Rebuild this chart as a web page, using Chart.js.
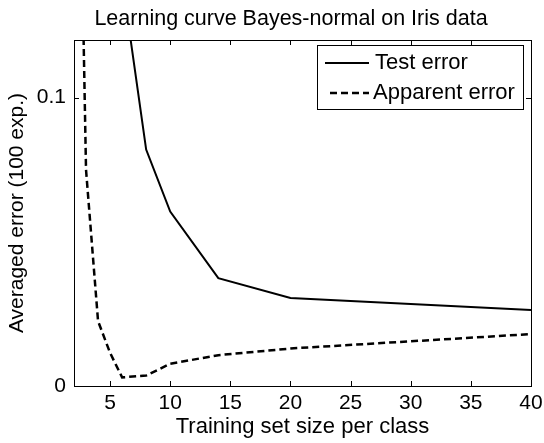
<!DOCTYPE html>
<html>
<head>
<meta charset="utf-8">
<script src="https://cdn.jsdelivr.net/npm/chart.js@4/dist/chart.umd.min.js"></script>
<style>
  html, body { margin: 0; padding: 0; background: #fff; }
  #wrap { width: 544px; height: 443px; }
</style>
</head>
<body>
<div id="wrap"><canvas id="c" width="544" height="443"></canvas></div>
<script>
// Training set sizes per class
const sizes = [2, 3, 4, 5, 6, 8, 10, 14, 20, 40];
// Averaged test error (values above the plot range are clipped)
const testError = [null, null, null, null, 0.141, 0.082, 0.0605, 0.0374, 0.0305, 0.0264];
// Averaged apparent (training) error
const apparentError = [0.30, 0.075, 0.0225, 0.0115, 0.003, 0.0036, 0.0077, 0.0107, 0.013, 0.018];

const seriesLabels = ['Test error', 'Apparent error'];
const xTicks = [5, 10, 15, 20, 25, 30, 35, 40];
const yTicks = [0, 0.1];
const chartTitle = 'Learning curve Bayes-normal on Iris data';

const FONT = '"Liberation Sans", Arial, Helvetica, sans-serif';

const toPoints = (ys) => sizes.map((x, i) => ({ x: x, y: ys[i] }));

// Plot title above the axes
const plotTitle = {
  id: 'plotTitle',
  afterDraw(chart) {
    const { ctx } = chart;
    ctx.save();
    ctx.font = '21.5px ' + FONT;
    ctx.fillStyle = '#000';
    ctx.textAlign = 'center';
    ctx.textBaseline = 'alphabetic';
    ctx.fillText(chartTitle, 291, 25);
    ctx.restore();
  }
};

// MATLAB-like axes box with inward tick marks on all four sides
const boxAxes = {
  id: 'boxAxes',
  afterDatasetsDraw(chart) {
    const { ctx, chartArea: a, scales } = chart;
    const len = 5;
    ctx.save();
    ctx.strokeStyle = '#000';
    ctx.lineWidth = 1;
    ctx.beginPath();
    scales.x.ticks.forEach(t => {
      const px = Math.round(scales.x.getPixelForValue(t.value)) + 0.5;
      ctx.moveTo(px, a.bottom); ctx.lineTo(px, a.bottom - len);
      ctx.moveTo(px, a.top); ctx.lineTo(px, a.top + len);
    });
    scales.y.ticks.forEach(t => {
      const py = Math.round(scales.y.getPixelForValue(t.value)) + 0.5;
      ctx.moveTo(a.left, py); ctx.lineTo(a.left + len, py);
      ctx.moveTo(a.right, py); ctx.lineTo(a.right - len, py);
    });
    ctx.stroke();
    ctx.strokeRect(Math.round(a.left) + 0.5, Math.round(a.top) + 0.5,
                   Math.round(a.right - a.left), Math.round(a.bottom - a.top));
    ctx.restore();
  }
};

// Boxed legend in the upper right corner of the axes
const boxLegend = {
  id: 'boxLegend',
  afterDraw(chart) {
    const { ctx, chartArea: a } = chart;
    const x0 = a.right - 214, y0 = a.top + 5, w = 206, h = 64;
    ctx.save();
    ctx.fillStyle = '#fff';
    ctx.fillRect(x0, y0, w, h);
    ctx.strokeStyle = '#000';
    ctx.lineWidth = 1;
    ctx.strokeRect(Math.round(x0) + 0.5, Math.round(y0) + 0.5, w, h);
    ctx.font = '22px ' + FONT;
    ctx.fillStyle = '#000';
    ctx.textBaseline = 'middle';
    const rows = [
      { sx0: 8, sx1: 52, tx: 58, dy: 18 },
      { sx0: 13, sx1: 52, tx: 56, dy: 48 }
    ];
    chart.data.datasets.forEach((ds, i) => {
      const r = rows[i];
      const yy = y0 + r.dy;
      ctx.beginPath();
      ctx.setLineDash(ds.borderDash || []);
      ctx.lineWidth = ds.borderWidth;
      ctx.strokeStyle = ds.borderColor;
      ctx.moveTo(x0 + r.sx0, yy);
      ctx.lineTo(x0 + r.sx1, yy);
      ctx.stroke();
      ctx.setLineDash([]);
      ctx.fillText(ds.label, x0 + r.tx, yy);
    });
    ctx.restore();
  }
};

new Chart(document.getElementById('c'), {
  type: 'line',
  data: {
    datasets: [
      {
        label: seriesLabels[0],
        data: toPoints(testError),
        borderColor: '#000',
        borderWidth: 2,
        pointRadius: 0,
        tension: 0,
        fill: false
      },
      {
        label: seriesLabels[1],
        data: toPoints(apparentError),
        borderColor: '#000',
        borderWidth: 2.5,
        borderDash: [7, 4],
        pointRadius: 0,
        tension: 0,
        fill: false
      }
    ]
  },
  options: {
    responsive: false,
    animation: false,
    devicePixelRatio: 1,
    layout: { padding: { left: 0, right: 13, top: 40, bottom: 0 } },
    plugins: {
      legend: { display: false },
      tooltip: { enabled: false },
      title: { display: false }
    },
    scales: {
      x: {
        type: 'linear',
        min: 2,
        max: 40,
        grid: { display: false, drawTicks: false },
        border: { display: false },
        afterBuildTicks: s => { s.ticks = xTicks.map(v => ({ value: v })); },
        afterFit: s => { s.height = 57; s.paddingLeft = 0; s.paddingRight = 0; },
        ticks: {
          color: '#000',
          padding: 5,
          maxRotation: 0,
          font: { family: FONT, size: 21 },
          callback: v => String(v)
        },
        title: {
          display: true,
          text: 'Training set size per class',
          color: '#000',
          font: { family: FONT, size: 22 },
          padding: { top: 0, bottom: 3 }
        }
      },
      y: {
        type: 'linear',
        min: 0,
        max: 0.12,
        grid: { display: false, drawTicks: false },
        border: { display: false },
        afterBuildTicks: s => { s.ticks = yTicks.map(v => ({ value: v })); },
        afterFit: s => { s.width = 74; s.paddingTop = 0; s.paddingBottom = 0; },
        ticks: {
          color: '#000',
          padding: 8,
          font: { family: FONT, size: 21 },
          callback: v => String(v)
        },
        title: {
          display: true,
          text: 'Averaged error (100 exp.)',
          color: '#000',
          font: { family: FONT, size: 21 },
          padding: { top: 5, bottom: 0 }
        }
      }
    }
  },
  plugins: [boxAxes, boxLegend, plotTitle]
});
</script>
</body>
</html>
